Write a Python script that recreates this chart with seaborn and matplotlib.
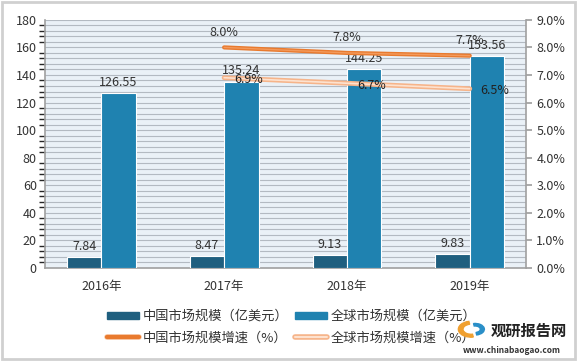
import numpy as np
import pandas as pd
import matplotlib.pyplot as plt
import matplotlib.patches as mpatches
import matplotlib.patheffects as pe
from matplotlib.lines import Line2D
import seaborn as sns

years = ['2016年', '2017年', '2018年', '2019年']
china_size = [7.84, 8.47, 9.13, 9.83]
global_size = [126.55, 135.24, 144.25, 153.56]
growth_years = ['2017年', '2018年', '2019年']
china_growth = [8.0, 7.8, 7.7]
global_growth = [6.9, 6.7, 6.5]

s_china = '中国市场规模（亿美元）'
s_global = '全球市场规模（亿美元）'
s_china_g = '中国市场规模增速（%）'
s_global_g = '全球市场规模增速（%）'

c_china = '#1f5f7f'
c_global = '#1f82b0'
c_china_line = '#e97a2e'
c_global_line = '#f6b48a'

sns.set_theme(style='white')
plt.rcParams['font.family'] = ['Noto Sans CJK SC', 'DejaVu Sans']
plt.rcParams['font.size'] = 9

df = pd.DataFrame({
    'year': years * 2,
    'value': china_size + global_size,
    'series': [s_china] * 4 + [s_global] * 4,
})

fig = plt.figure(figsize=(5.78, 3.61), dpi=100)
fig.patch.set_facecolor('white')
fig.add_artist(mpatches.Rectangle((0.004, 0.006), 0.99, 0.988, transform=fig.transFigure,
                                  fill=False, edgecolor='#d0d0d0', lw=2))
ax = fig.add_axes([0.078, 0.258, 0.832, 0.687])
ax.set_facecolor('#eaf1f7')

sns.barplot(data=df, x='year', y='value', hue='series', palette=[c_china, c_global],
            saturation=1, width=0.56, gap=0.0, ax=ax, legend=False, edgecolor='white',
            linewidth=0.8, zorder=3)

ax.set_ylim(0, 180)
ax.set_yticks(np.arange(0, 181, 20))
ax.set_yticks(np.arange(0, 181, 4), minor=True)
ax.yaxis.grid(True, which='both', color='#b3bac2', lw=0.8, zorder=0)
ax.set_axisbelow(True)
ax.set_xlabel('')
ax.set_ylabel('')
ax.tick_params(axis='both', length=0, labelsize=9, colors='#333333', pad=6)
ax.tick_params(axis='x', pad=9)
for s in ['top', 'right']:
    ax.spines[s].set_visible(False)
for s in ['left', 'bottom']:
    ax.spines[s].set_color('#a0a0a0')
    ax.spines[s].set_linewidth(1.2)

for cont in ax.containers:
    ax.bar_label(cont, fmt='%.2f', padding=3, fontsize=9, color='#333333')

ax2 = ax.twinx()
ax2.set_ylim(0, 9)
ax2.set_yticks(np.arange(0, 9.1, 1))
ax2.set_yticklabels([f'{v:.1f}%' for v in np.arange(0, 9.1, 1)])
ax2.tick_params(axis='y', length=4, labelsize=9, colors='#a0a0a0', labelcolor='#333333')
for s in ['top', 'left', 'bottom']:
    ax2.spines[s].set_visible(False)
ax2.spines['right'].set_color('#a0a0a0')
ax2.spines['right'].set_linewidth(1.2)

gx = [years.index(y) for y in growth_years]
ax2.plot(gx, china_growth, color=c_china_line, lw=3, solid_capstyle='round', zorder=4)
ax2.plot(gx, china_growth, color='#f39a5c', lw=1, zorder=5)
ax2.plot(gx, global_growth, color=c_global_line, lw=3.5, solid_capstyle='round', zorder=4)
ax2.plot(gx, global_growth, color='#fde2cf', lw=1.2, zorder=5)

for x, v in zip(gx, china_growth):
    ax2.text(x, v + 0.55, f'{v:.1f}%', ha='center', va='center',
             fontsize=9, color='#333333', zorder=6)
for x, v in zip(gx, global_growth):
    ax2.text(x + 0.2, v - 0.07, f'{v:.1f}%', ha='center', va='center',
             fontsize=9, color='#222222', zorder=6)

handles = [
    mpatches.Patch(color=c_china),
    Line2D([], [], color=c_china_line, lw=3,
           path_effects=[pe.Stroke(linewidth=4, foreground='#f7c09a'), pe.Normal()]),
    mpatches.Patch(color=c_global),
    Line2D([], [], color='#fde2cf', lw=1.5,
           path_effects=[pe.Stroke(linewidth=4, foreground=c_global_line), pe.Normal()]),
]
labels = [s_china, s_china_g, s_global, s_global_g]
leg = fig.legend(handles, labels, loc='center', bbox_to_anchor=(0.505, 0.094), ncol=2,
                 fontsize=9.5, frameon=True, handlelength=2.4, handleheight=0.45,
                 columnspacing=0.5, handletextpad=0.3, labelspacing=0.65,
                 borderpad=0.4)
leg.get_frame().set_edgecolor('#ffffff')
leg.get_frame().set_facecolor('white')
leg.set_zorder(2)
for t in leg.get_texts():
    t.set_color('#333333')

# watermark
fig.add_artist(mpatches.Wedge((0.815, 0.088), 0.022, 100, 280, width=0.008,
                              transform=fig.transFigure, color='#f0a030', zorder=5))
fig.add_artist(mpatches.Wedge((0.822, 0.088), 0.016, 280, 100, width=0.007,
                              transform=fig.transFigure, color='#2a8fc8', zorder=5))
fig.text(0.915, 0.083, '观研报告网', ha='center', va='center', fontsize=11,
         fontweight='bold', color='#222222', zorder=5)
fig.text(0.885, 0.03, 'www.chinabaogao.com', ha='center', va='center', fontsize=6,
         color='#333333', fontweight='bold', zorder=5)

fig.savefig('out.png', dpi=100)
